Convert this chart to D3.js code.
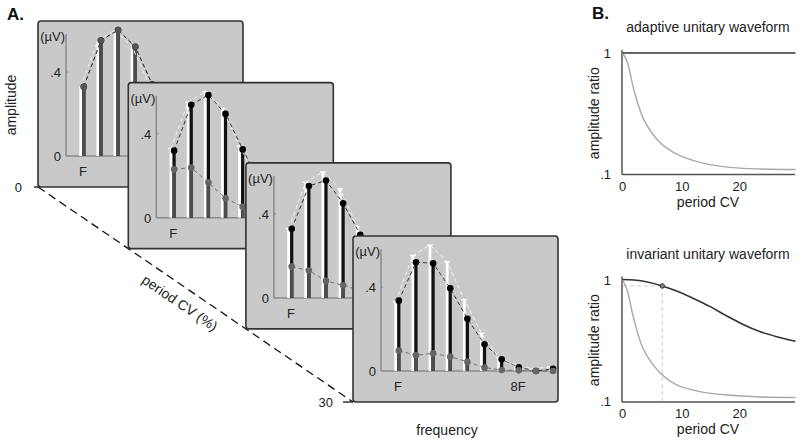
<!DOCTYPE html>
<html><head><meta charset="utf-8">
<script src="https://cdn.jsdelivr.net/npm/d3@7"></script>
<style>body{margin:0;background:#fff}svg{display:block}text{font-family:"Liberation Sans",Arial,sans-serif}</style>
</head><body><svg id="c" width="800" height="442"></svg>
<script>
// ---------- data ----------
const harmonics = [1,2,3,4,5,6,7,8,9,10];
const freqTicks = [{h:1,label:"F"},{h:8,label:"8F"}];
const panelCV = [0, 8.6, 19.8, 30];
const predicted = [0.33,0.55,0.60,0.52,0.34,0.18,0.065,0.03,0.01,0.02];
const measured = [
  [0.33,0.55,0.60,0.52,0.34,0.18,0.065,0.03,0.01,0.02],
  [0.319,0.537,0.584,0.494,0.325,0.17,0.06,0.025,0.01,0.015],
  [0.329,0.533,0.559,0.451,0.30,0.15,0.06,0.02,0.005,0.01],
  [0.335,0.518,0.513,0.394,0.249,0.127,0.056,0.018,0.0,0.01]
];
const adapted = [
  [0.33,0.55,0.60,0.52,0.34,0.18,0.065,0.03,0.01,0.02],
  [0.23,0.238,0.167,0.092,0.052,0.02,0.01,0.005,0,0],
  [0.149,0.13,0.081,0.06,0.035,0.015,0.005,0,0,0],
  [0.097,0.075,0.084,0.068,0.044,0.016,0.005,0.003,0,0]
];
const ampTicks = [0, 0.4];
const cvTicks = [0, 30];

// panel B
const bCvTicks = [0,10,20];
const bRatioTicks = [0.1, 1];
const adaptiveBlackCV = [0, 30];
const adaptiveBlack = [1, 1];
const adaptiveGrayCV = [0,0.8,2,3.7,6.6,9.5,13.6,18.2,24,30];
const adaptiveGray = [1,0.85,0.49,0.28,0.179,0.144,0.123,0.113,0.109,0.108];
const invariantBlackCV = [0,2,4.3,6.9,9.5,12.4,15.3,18.1,21,23.9,26.8,30];
const invariantBlack = [1,0.99,0.955,0.885,0.80,0.695,0.595,0.50,0.425,0.372,0.338,0.31];
const invariantGrayCV = [0,0.8,2,3.7,6.6,9.5,13.6,18.2,24,30];
const invariantGray = [1,0.82,0.464,0.263,0.169,0.135,0.119,0.112,0.108,0.107];
const markCV = 6.9, markRatio = 0.885;

// ---------- drawing ----------
const svg = d3.select("#c");

// depth axis (period CV)
const P0 = [38,187], P30 = [353,402];
const depthT = d3.scaleLinear().domain([0,30]).range([0,1]);
const depthX = cv => P0[0] + depthT(cv)*(P30[0]-P0[0]);
const depthY = cv => P0[1] + depthT(cv)*(P30[1]-P0[1]);

svg.append("line").attr("x1",depthX(0)).attr("y1",depthY(0)).attr("x2",depthX(30)).attr("y2",depthY(30))
  .attr("stroke","#111").attr("stroke-width",1.3).attr("stroke-dasharray","8,5");
cvTicks.forEach(v=>{
  const x=depthX(v), y=depthY(v);
  svg.append("line").attr("x1",x-(v===0?4:10)).attr("x2",x).attr("y1",y).attr("y2",y).attr("stroke","#111").attr("stroke-width",1.3);
  svg.append("text").attr("x",x-(v===0?16:20)).attr("y",y+5).attr("text-anchor","end").attr("font-size",13).attr("fill","#222").text(v);
});
const ang = Math.atan2(P30[1]-P0[1], P30[0]-P0[0])*180/Math.PI;
svg.append("text").attr("transform",`translate(177,307) rotate(${ang})`).attr("text-anchor","middle")
  .attr("font-size",14).attr("fill","#222").text("period CV (%)");

svg.append("text").attr("x",7).attr("y",20).attr("font-size",17).attr("font-weight","bold").attr("fill","#111").text("A.");
svg.append("text").attr("transform","translate(16,105) rotate(-90)").attr("text-anchor","middle").attr("font-size",14).attr("fill","#222").text("amplitude");
svg.append("text").attr("x",447).attr("y",435).attr("text-anchor","middle").attr("font-size",14).attr("fill","#222").text("frequency");

const PW = 205, PH = 166;
panelCV.forEach((cv,i)=>{
  const px = depthX(cv), pb = depthY(cv), pt = pb-PH;
  const g = svg.append("g").attr("transform",`translate(${px},${pt})`);
  g.append("rect").attr("x",0).attr("y",0).attr("width",PW).attr("height",PH).attr("rx",3)
    .attr("fill","#c9c9c9").attr("stroke","#333").attr("stroke-width",1.6);
  const y = d3.scaleLinear().domain([0,0.4]).range([PH-31, PH-31-84]);
  const x = d3.scaleLinear().domain([1,8]).range([45,165]);
  const ax0 = 28;
  g.append("line").attr("x1",ax0).attr("x2",ax0).attr("y1",y(0)).attr("y2",y(0.58)).attr("stroke","#8a8a8a").attr("stroke-width",1.5);
  g.append("line").attr("x1",ax0).attr("x2",200).attr("y1",y(0)).attr("y2",y(0)).attr("stroke","#8a8a8a").attr("stroke-width",1.5);
  ampTicks.forEach(v=>{
    g.append("text").attr("x",ax0-5).attr("y",y(v)+5).attr("text-anchor","end").attr("font-size",13).attr("fill","#222").text(v===0?"0":".4");
    if(v>0) g.append("line").attr("x1",ax0).attr("x2",ax0+2).attr("y1",y(v)).attr("y2",y(v)).attr("stroke","#8a8a8a");
  });
  g.append("text").attr("x",ax0-1).attr("y",y(0.58)+7).attr("text-anchor","end").attr("font-size",13).attr("fill","#222").text("(µV)");
  freqTicks.forEach(t=>{
    g.append("text").attr("x",x(t.h)).attr("y",y(0)+20).attr("text-anchor","middle").attr("font-size",13).attr("fill","#222").text(t.label);
  });
  const wx = h => x(h)-2.3, bx = h => x(h)+0.8;
  harmonics.forEach((h,j)=>{
    g.append("rect").attr("x",wx(h)-1.4).attr("width",2.8).attr("y",y(predicted[j])).attr("height",y(0)-y(predicted[j])).attr("fill","#fff");
    if(i>0) g.append("line").attr("x1",wx(h)-3).attr("x2",wx(h)+3).attr("y1",y(predicted[j])).attr("y2",y(predicted[j])).attr("stroke","#fff").attr("stroke-width",1.2);
  });
  harmonics.forEach((h,j)=>{
    g.append("rect").attr("x",bx(h)-1.6).attr("width",3.2).attr("y",y(measured[i][j])).attr("height",y(0)-y(measured[i][j])).attr("fill","#111");
  });
  harmonics.forEach((h,j)=>{
    g.append("rect").attr("x",bx(h)-1.8).attr("width",3.6).attr("y",y(adapted[i][j])).attr("height",y(0)-y(adapted[i][j])).attr("fill","#4d4d4d");
  });
  const lineB = d3.line().x((d,j)=>bx(harmonics[j])).y(d=>y(d));
  const lineW = d3.line().x((d,j)=>wx(harmonics[j])).y(d=>y(d));
  g.append("path").attr("d",lineB(adapted[i])).attr("fill","none").attr("stroke","#777").attr("stroke-width",1).attr("stroke-dasharray","4,3");
  g.append("path").attr("d",lineB(measured[i])).attr("fill","none").attr("stroke","#333").attr("stroke-width",1).attr("stroke-dasharray","4,3");
  g.append("path").attr("d",lineW(predicted)).attr("fill","none").attr("stroke","#f4f4f4").attr("stroke-width",1).attr("stroke-dasharray","4,3");
  harmonics.forEach((h,j)=>{
    g.append("circle").attr("cx",bx(h)).attr("cy",y(measured[i][j])).attr("r",3.3).attr("fill","#000");
  });
  harmonics.forEach((h,j)=>{
    g.append("circle").attr("cx",bx(h)).attr("cy",y(adapted[i][j])).attr("r",3.3).attr("fill",i===0?"#555":"#666");
  });
});

// ---------- panel B ----------
svg.append("text").attr("x",592).attr("y",19).attr("font-size",17).attr("font-weight","bold").attr("fill","#111").text("B.");
const bxs = d3.scaleLinear().domain([0,30]).range([622.5,795.5]);
function drawB(top, bottom, title, series, mark){
  const y = d3.scaleLog().domain([0.1,1]).range([bottom, top]);
  svg.append("text").attr("x",708).attr("y",top-21).attr("text-anchor","middle").attr("font-size",14).attr("fill","#222").text(title);
  svg.append("line").attr("x1",622).attr("x2",622).attr("y1",top-3).attr("y2",bottom+1).attr("stroke","#555").attr("stroke-width",1.5);
  svg.append("line").attr("x1",622).attr("x2",795).attr("y1",bottom+1).attr("y2",bottom+1).attr("stroke","#555").attr("stroke-width",1.5);
  bRatioTicks.forEach(v=>svg.append("text").attr("x",611).attr("y",y(v)+5).attr("text-anchor","end").attr("font-size",13).attr("fill","#222").text(v===1?"1":".1"));
  bCvTicks.forEach(v=>svg.append("text").attr("x",bxs(v)+(v>0?2:0)).attr("y",bottom+17).attr("text-anchor","middle").attr("font-size",13).attr("fill","#222").text(v));
  svg.append("text").attr("x",708).attr("y",bottom+33).attr("text-anchor","middle").attr("font-size",14).attr("fill","#222").text("period CV");
  svg.append("text").attr("transform",`translate(599,${(top+bottom)/2}) rotate(-90)`).attr("text-anchor","middle").attr("font-size",14).attr("fill","#222").text("amplitude ratio");
  if(mark){
    svg.append("line").attr("x1",623).attr("x2",bxs(mark[0])).attr("y1",y(mark[1])).attr("y2",y(mark[1])).attr("stroke","#ccc").attr("stroke-dasharray","4,3");
    svg.append("line").attr("x1",bxs(mark[0])).attr("x2",bxs(mark[0])).attr("y1",y(mark[1])).attr("y2",bottom).attr("stroke","#ccc").attr("stroke-dasharray","4,3");
  }
  series.forEach(s=>{
    const ln = d3.line().x((d,j)=>bxs(s.cv[j])).y(d=>y(d)).curve(d3.curveCatmullRom.alpha(0.5));
    svg.append("path").attr("d",ln(s.v)).attr("fill","none").attr("stroke",s.c).attr("stroke-width",s.w);
  });
  if(mark){
    svg.append("circle").attr("cx",bxs(mark[0])).attr("cy",y(mark[1])).attr("r",2.2).attr("fill","#888").attr("stroke","#333").attr("stroke-width",1);
  }
}
drawB(53, 173.5, "adaptive unitary waveform", [
  {cv:adaptiveGrayCV, v:adaptiveGray, c:"#a8a8a8", w:1.4},
  {cv:adaptiveBlackCV, v:adaptiveBlack, c:"#333", w:1.6}
], null);
drawB(279.5, 401, "invariant unitary waveform", [
  {cv:invariantGrayCV, v:invariantGray, c:"#a8a8a8", w:1.4},
  {cv:invariantBlackCV, v:invariantBlack, c:"#333", w:1.6}
], [markCV, markRatio]);
</script></body></html>
